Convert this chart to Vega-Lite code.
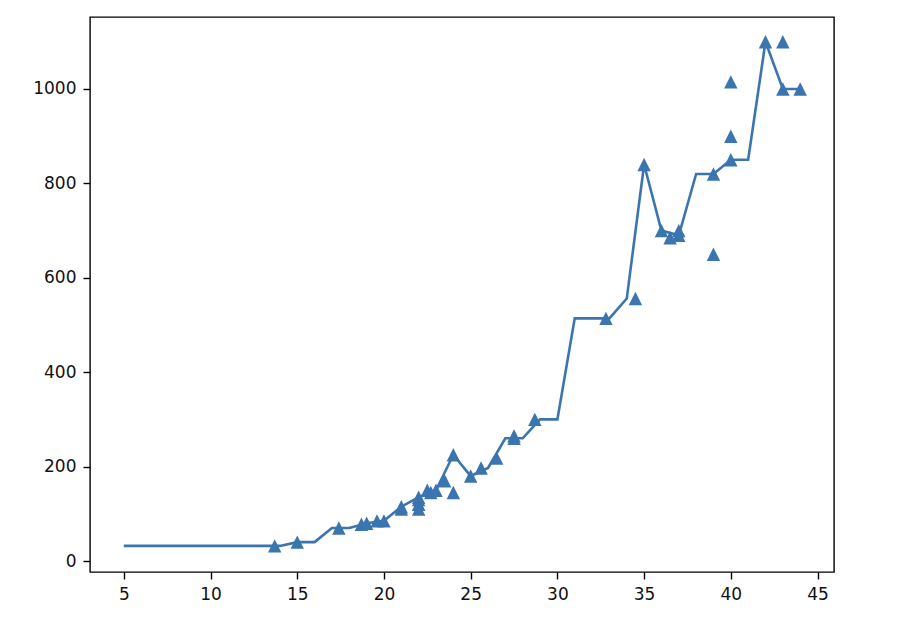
{
  "$schema": "https://vega.github.io/schema/vega-lite/v6.json",
  "autosize": {"type": "none"},
  "width": 744,
  "height": 555,
  "padding": {"left": 90, "top": 17, "right": 66, "bottom": 50},
  "background": "white",
  "config": {
    "view": {"stroke": "#000000", "strokeWidth": 1.4},
    "axis": {
      "domain": false,
      "grid": false,
      "ticks": true,
      "tickColor": "#000000",
      "tickSize": 7,
      "tickWidth": 1.4,
      "labelFont": "DejaVu Sans",
      "labelFontSize": 17,
      "labelColor": "#111111",
      "labelPadding": 7,
      "title": null
    }
  },
  "datasets": {
    "train": [
      {"length": 13.7, "weight": 32}, {"length": 15.0, "weight": 40}, {"length": 17.4, "weight": 70},
      {"length": 18.7, "weight": 78}, {"length": 19.0, "weight": 80}, {"length": 19.6, "weight": 85},
      {"length": 20.0, "weight": 85}, {"length": 21.0, "weight": 110}, {"length": 21.0, "weight": 115},
      {"length": 22.0, "weight": 120}, {"length": 22.0, "weight": 120}, {"length": 22.0, "weight": 130},
      {"length": 22.0, "weight": 135}, {"length": 22.0, "weight": 110}, {"length": 22.5, "weight": 150},
      {"length": 22.7, "weight": 145}, {"length": 23.0, "weight": 150}, {"length": 23.5, "weight": 170},
      {"length": 24.0, "weight": 225}, {"length": 24.0, "weight": 145}, {"length": 25.0, "weight": 180},
      {"length": 25.6, "weight": 197}, {"length": 26.5, "weight": 218}, {"length": 27.5, "weight": 260},
      {"length": 27.5, "weight": 265}, {"length": 28.7, "weight": 300}, {"length": 32.8, "weight": 514},
      {"length": 34.5, "weight": 556}, {"length": 35.0, "weight": 840}, {"length": 36.5, "weight": 685},
      {"length": 36.0, "weight": 700}, {"length": 37.0, "weight": 700}, {"length": 37.0, "weight": 690},
      {"length": 39.0, "weight": 650}, {"length": 39.0, "weight": 820}, {"length": 40.0, "weight": 850},
      {"length": 40.0, "weight": 900}, {"length": 40.0, "weight": 1015}, {"length": 42.0, "weight": 1100},
      {"length": 43.0, "weight": 1000}, {"length": 43.0, "weight": 1100}, {"length": 44.0, "weight": 1000}
    ],
    "pred": [
      {"x": 5, "y": 32}, {"x": 6, "y": 32}, {"x": 7, "y": 32}, {"x": 8, "y": 32}, {"x": 9, "y": 32},
      {"x": 10, "y": 32}, {"x": 11, "y": 32}, {"x": 12, "y": 32}, {"x": 13, "y": 32}, {"x": 14, "y": 32},
      {"x": 15, "y": 40}, {"x": 16, "y": 40}, {"x": 17, "y": 70}, {"x": 18, "y": 70}, {"x": 19, "y": 80},
      {"x": 20, "y": 85}, {"x": 21, "y": 115}, {"x": 22, "y": 135}, {"x": 23, "y": 150}, {"x": 24, "y": 225},
      {"x": 25, "y": 180}, {"x": 26, "y": 197}, {"x": 27, "y": 260}, {"x": 28, "y": 260}, {"x": 29, "y": 300},
      {"x": 30, "y": 300}, {"x": 31, "y": 514}, {"x": 32, "y": 514}, {"x": 33, "y": 514}, {"x": 34, "y": 556},
      {"x": 35, "y": 840}, {"x": 36, "y": 700}, {"x": 37, "y": 690}, {"x": 38, "y": 820}, {"x": 39, "y": 820},
      {"x": 40, "y": 850}, {"x": 41, "y": 850}, {"x": 42, "y": 1100}, {"x": 43, "y": 1000}, {"x": 44, "y": 1000}
    ]
  },
  "layer": [
    {
      "data": {"name": "train"},
      "mark": {"type": "point", "shape": "M0,-1L-1,1L1,1Z", "filled": true, "size": 180, "color": "#3a75b0", "opacity": 1, "strokeWidth": 0},
      "encoding": {
        "x": {"field": "length", "type": "quantitative", "scale": {"domain": [3.05, 45.95], "nice": false, "zero": false}, "axis": {"values": [5, 10, 15, 20, 25, 30, 35, 40, 45], "format": "d"}},
        "y": {"field": "weight", "type": "quantitative", "scale": {"domain": [-23.3, 1152.5], "nice": false, "zero": false}, "axis": {"values": [0, 200, 400, 600, 800, 1000], "format": "d"}}
      }
    },
    {
      "data": {"name": "pred"},
      "mark": {"type": "line", "color": "#3a75b0", "strokeWidth": 2.6},
      "encoding": {
        "x": {"field": "x", "type": "quantitative"},
        "y": {"field": "y", "type": "quantitative"}
      }
    }
  ]
}
